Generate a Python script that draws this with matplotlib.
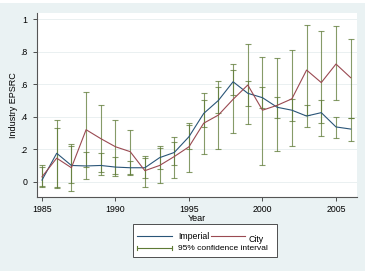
import matplotlib
matplotlib.use("Agg")
import matplotlib.pyplot as plt
from matplotlib.patches import Rectangle
from matplotlib.lines import Line2D
import numpy as np

plt.rcParams['font.family'] = ['Liberation Sans', 'DejaVu Sans']

years = list(range(1985, 2007))
imperial = [0.01, 0.175, 0.10, 0.097, 0.10, 0.09, 0.086, 0.086, 0.148, 0.18, 0.277,
            0.42, 0.50, 0.615, 0.544, 0.517, 0.458, 0.44, 0.404, 0.425, 0.337, 0.324]
imperial_lo = [-0.035, -0.03, -0.01, 0.015, 0.04, 0.035, 0.04, 0.02, 0.08, 0.10, 0.20,
               0.335, 0.42, 0.535, 0.466, 0.455, 0.394, 0.374, 0.337, 0.36, 0.267, 0.252]
imperial_hi = [0.09, 0.38, 0.22, 0.185, 0.175, 0.15, 0.13, 0.145, 0.22, 0.245, 0.35,
               0.503, 0.58, 0.687, 0.618, 0.58, 0.523, 0.506, 0.47, 0.503, 0.40, 0.39]
city = [0.03, 0.145, 0.086, 0.32, 0.265, 0.215, 0.185, 0.068, 0.10, 0.155, 0.215,
        0.36, 0.41, 0.507, 0.595, 0.44, 0.47, 0.51, 0.687, 0.61, 0.724, 0.64]
city_lo = [-0.025, -0.04, -0.057, 0.09, 0.058, 0.045, 0.05, -0.03, -0.006, 0.02, 0.058,
           0.168, 0.20, 0.298, 0.353, 0.10, 0.19, 0.22, 0.41, 0.283, 0.503, 0.39]
city_hi = [0.10, 0.33, 0.23, 0.55, 0.47, 0.38, 0.32, 0.16, 0.205, 0.277, 0.363,
           0.548, 0.618, 0.724, 0.845, 0.765, 0.76, 0.81, 0.965, 0.93, 0.958, 0.88]

xticks = [1985, 1990, 1995, 2000, 2005]
yticks = [0, 0.2, 0.4, 0.6, 0.8, 1.0]
ytick_labels = ['0', '.2', '.4', '.6', '.8', '1']

C_IMP = '#2a5578'
C_CITY = '#9a4a52'
C_CI = '#5e7a35'
BG = '#eaf2f3'

W, H = 368, 271
fig = plt.figure(figsize=(W / 100, H / 100), dpi=100, facecolor='white')
fig.patches.append(Rectangle((0, 0), 365 / W, (H - 3) / H, transform=fig.transFigure,
                             facecolor=BG, edgecolor='none', zorder=-10))

ax = fig.add_axes([37 / W, (H - 197) / H, (357 - 37) / W, (197 - 13) / H])
ax.set_zorder(1)
ax.set_facecolor('white')

imp = np.array(imperial)
cty = np.array(city)
ax.errorbar(years, imp, yerr=[imp - np.array(imperial_lo), np.array(imperial_hi) - imp],
            fmt='none', ecolor=C_CI, elinewidth=0.8, capsize=2.0, capthick=0.8, alpha=0.75, zorder=2)
ax.errorbar(years, cty, yerr=[cty - np.array(city_lo), np.array(city_hi) - cty],
            fmt='none', ecolor=C_CI, elinewidth=0.8, capsize=2.0, capthick=0.8, alpha=0.75, zorder=2)
ax.plot(years, imp, color=C_IMP, lw=0.8, zorder=3)
ax.plot(years, cty, color=C_CITY, lw=0.8, zorder=3)

ax.set_xlim(1984.66, 2006.43)
ax.set_ylim(-0.094, 1.038)
ax.set_xticks(xticks)
ax.set_xticklabels([str(x) for x in xticks])
ax.set_yticks(yticks)
ax.set_yticklabels(ytick_labels)
ax.tick_params(axis='both', labelsize=6.3, length=3, width=0.6, color='#333333')
ax.tick_params(axis='y', pad=4)
ax.tick_params(axis='x', pad=2.5)
ax.grid(axis='y', color='#e6eeef', lw=0.6, zorder=0)
for s in ['top', 'right']:
    ax.spines[s].set_visible(False)
for s in ['left', 'bottom']:
    ax.spines[s].set_color('#555555')
    ax.spines[s].set_linewidth(0.8)
ax.set_xlabel('Year', fontsize=6.5, labelpad=0)
ax.set_ylabel('Industry EPSRC', fontsize=6.5, labelpad=1.5)

# legend (manual layout in figure pixels)
def fx(x):
    return x / W

def fy(y):
    return 1 - y / H

fig.patches.append(Rectangle((fx(133), fy(257)), (277 - 133) / W, (257 - 224) / H,
                             transform=fig.transFigure, facecolor='white',
                             edgecolor='#333333', lw=0.6, zorder=5))
fig.add_artist(Line2D([fx(137), fx(172)], [fy(236), fy(236)], color=C_IMP, lw=0.8, zorder=6))
fig.text(fx(178), fy(236.5), 'Imperial', fontsize=6.3, va='center', ha='left', zorder=6)
fig.add_artist(Line2D([fx(211), fx(245)], [fy(236), fy(236)], color=C_CITY, lw=0.8, zorder=6))
fig.text(fx(249), fy(239.5), 'City', fontsize=6.3, va='center', ha='left', zorder=6)
fig.add_artist(Line2D([fx(137), fx(172)], [fy(248), fy(248)], color=C_CI, lw=0.8, zorder=6))
for xx in (137, 172):
    fig.add_artist(Line2D([fx(xx), fx(xx)], [fy(246), fy(250)], color=C_CI, lw=0.8, zorder=6))
fig.text(fx(178), fy(248), '95% confidence interval', fontsize=6.0, va='center', ha='left', zorder=6)

fig.savefig('out.png', dpi=100, facecolor='white')
